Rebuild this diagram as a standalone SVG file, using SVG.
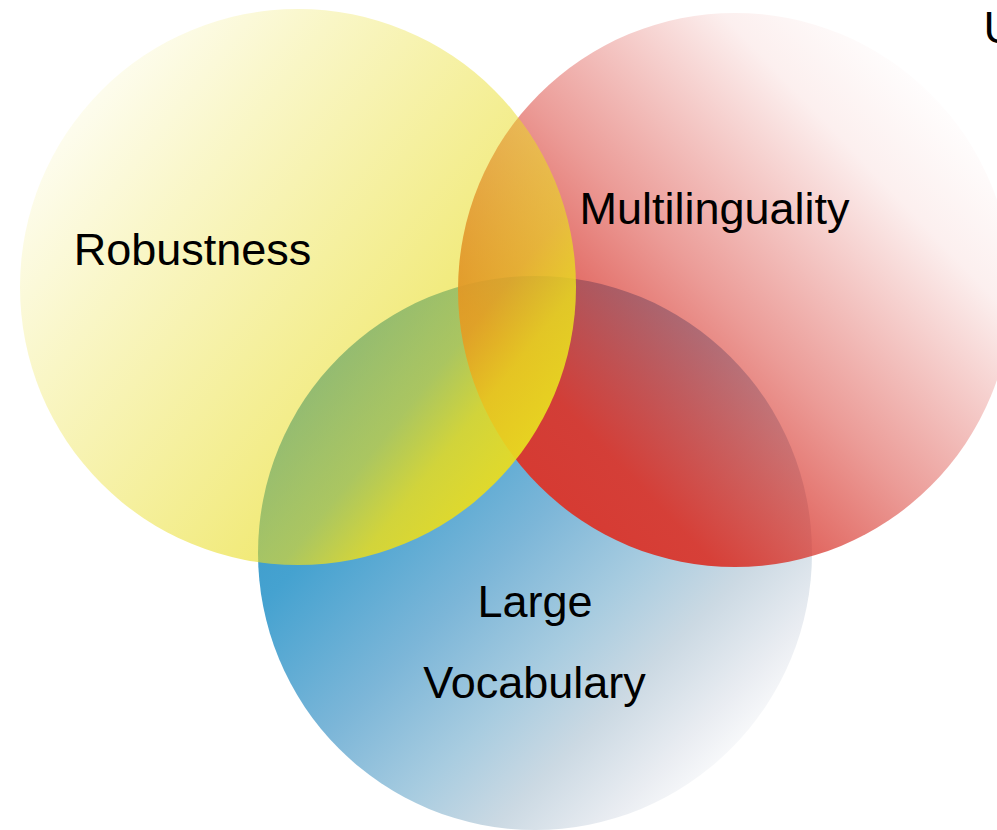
<svg xmlns="http://www.w3.org/2000/svg" width="997" height="830" viewBox="0 0 997 830">
  <style>
    .label { font-family: "Liberation Sans", Arial, sans-serif; font-size: 45px; fill: #000000; }
  </style>
  <defs>
    <!-- blue: solid colour fading from top-left to bottom-right -->
    <linearGradient id="gBlue" gradientUnits="userSpaceOnUse" x1="300" y1="330" x2="770" y2="790">
      <stop offset="0" stop-color="#3494c6"/>
      <stop offset="0.25" stop-color="#45a2d0"/>
      <stop offset="0.46" stop-color="#7cb6d8"/>
      <stop offset="0.62" stop-color="#a8cce0"/>
      <stop offset="0.74" stop-color="#cbd9e3"/>
      <stop offset="0.86" stop-color="#eaedf2"/>
      <stop offset="0.95" stop-color="#ffffff"/>
    </linearGradient>
    <!-- red: opaque at bottom-left, transparent at top-right -->
    <linearGradient id="gRed" gradientUnits="userSpaceOnUse" x1="500" y1="520" x2="950" y2="90">
      <stop offset="0" stop-color="#d8382f" stop-opacity="1"/>
      <stop offset="0.2" stop-color="#d8382f" stop-opacity="0.95"/>
      <stop offset="0.5" stop-color="#d8382f" stop-opacity="0.5"/>
      <stop offset="0.82" stop-color="#d8382f" stop-opacity="0.08"/>
      <stop offset="1" stop-color="#d8382f" stop-opacity="0"/>
    </linearGradient>
    <!-- yellow: transparent at top-left, opaque at bottom-right -->
    <linearGradient id="gYellow" gradientUnits="userSpaceOnUse" x1="70" y1="30" x2="570" y2="430">
      <stop offset="0" stop-color="#e8dc20" stop-opacity="0"/>
      <stop offset="0.3" stop-color="#e8dc20" stop-opacity="0.25"/>
      <stop offset="0.62" stop-color="#e8dc20" stop-opacity="0.5"/>
      <stop offset="0.78" stop-color="#e8dc20" stop-opacity="0.63"/>
      <stop offset="0.87" stop-color="#e8dc20" stop-opacity="0.85"/>
      <stop offset="1" stop-color="#e8dc20" stop-opacity="0.97"/>
    </linearGradient>
  </defs>

  <rect x="0" y="0" width="997" height="830" fill="#ffffff"/>

  <g id="large-vocabulary">
    <circle cx="535" cy="553" r="277" fill="url(#gBlue)"/>
  </g>
  <g id="multilinguality">
    <circle cx="735" cy="290" r="277" fill="url(#gRed)"/>
  </g>
  <g id="robustness">
    <circle cx="298" cy="287" r="278" fill="url(#gYellow)"/>
  </g>

  <g id="labels">
    <text class="label" x="192.5" y="265" text-anchor="middle">Robustness</text>
    <text class="label" x="714.5" y="224" text-anchor="middle">Multilinguality</text>
    <text class="label" x="535" y="617" text-anchor="middle">Large</text>
    <text class="label" x="534.5" y="698" text-anchor="middle">Vocabulary</text>
    <text class="label" x="983.5" y="43">U</text>
  </g>

  <g id="connectors"></g>
</svg>
